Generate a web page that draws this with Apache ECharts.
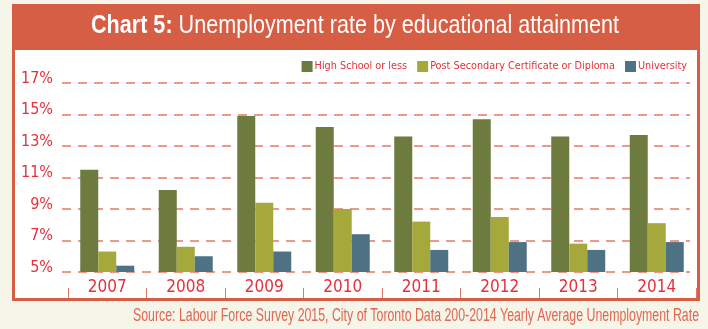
<!DOCTYPE html>
<html>
<head>
<meta charset="utf-8">
<style>
html,body{margin:0;padding:0;background:#f6f5ea;}
#c{width:708px;height:329px;}
</style>
<script src="https://cdn.jsdelivr.net/npm/echarts@6/dist/echarts.min.js"></script>
</head>
<body>
<div id="c"></div>
<script>
var categories = ['2007','2008','2009','2010','2011','2012','2013','2014'];
var highSchool = [11.5, 10.2, 14.9, 14.2, 13.6, 14.7, 13.6, 13.7];
var postSecondary = [6.3, 6.6, 9.4, 9.0, 8.2, 8.5, 6.8, 8.1];
var university = [5.4, 6.0, 6.3, 7.4, 6.4, 6.9, 6.4, 6.9];
var seriesNames = ['High School or less', 'Post Secondary Certificate or Diploma', 'University'];
var yTicks = {min: 5, max: 17, interval: 2};
var titleBold = 'Chart 5:';
var titleRest = 'Unemployment rate by educational attainment';
var sourceText = 'Source: Labour Force Survey 2015, City of Toronto Data 200-2014 Yearly Average Unemployment Rate';

var FONT = '"DejaVu Sans Condensed","DejaVu Sans",sans-serif';
var FONT_T = '"Liberation Sans",Arial,sans-serif';
var RED = '#e4313d';
var colors = ['#6d7b3e', '#a5a83a', '#4f7184'];

// measure text widths to compress title/source horizontally (condensed look)
var cv = document.createElement('canvas').getContext('2d');
function tw(font, s) { cv.font = font; return cv.measureText(s).width; }
var titleW = tw('bold 25px ' + FONT_T, titleBold) + tw('25px ' + FONT_T, ' ' + titleRest);
var titleScale = (619 - 91) / titleW;
var srcW = tw('18px ' + FONT_T, sourceText);
var srcScale = (699 - 133) / srcW;

var chart = echarts.init(document.getElementById('c'));
chart.setOption({
  backgroundColor: '#f6f5ea',
  animation: false,
  graphic: [
    {type: 'rect', shape: {x: 13.5, y: 5.5, width: 685, height: 294}, style: {fill: '#ffffff', stroke: '#d65e45', lineWidth: 3}, z: -10},
    {type: 'rect', shape: {x: 12, y: 4, width: 688, height: 46}, style: {fill: '#d65e45'}, z: -9},
    {type: 'text', x: 91, y: 26.5, scaleX: titleScale, z: 10,
      style: {
        text: '{b|' + titleBold + '} {r|' + titleRest + '}',
        align: 'left', verticalAlign: 'middle',
        rich: {
          b: {fontFamily: FONT_T, fontSize: 25, fontWeight: 'bold', fill: '#ffffff'},
          r: {fontFamily: FONT_T, fontSize: 25, fontWeight: 'normal', fill: '#ffffff'}
        },
        fontFamily: FONT_T, fontSize: 25, fill: '#ffffff'
      }},
    {type: 'text', x: 699, y: 316, scaleX: srcScale, z: 10,
      style: {text: sourceText, align: 'right', verticalAlign: 'middle', fontFamily: FONT_T, fontSize: 18, fill: '#e0674f'}}
  ],
  legend: {
    data: seriesNames,
    right: 21, top: 61,
    padding: 0,
    itemWidth: 11, itemHeight: 11, itemGap: 10,
    icon: 'rect',
    textStyle: {fontFamily: FONT, fontSize: 10.8, color: RED, padding: [0,0,0,-3]}
  },
  grid: [
    {left: 62, right: 18, top: 83, bottom: 57},
    {left: 68, right: 12, top: 83, bottom: 57}
  ],
  xAxis: [
    {type: 'category', data: categories, gridIndex: 0, show: false},
    {type: 'category', data: categories, gridIndex: 1,
      axisLine: {show: false},
      axisTick: {show: false},
      axisLabel: {margin: 7, fontFamily: FONT, fontSize: 17, color: RED}},
    {type: 'category', data: categories, gridIndex: 1, position: 'bottom', offset: 16,
      axisLine: {show: false},
      axisTick: {show: true, length: 10, lineStyle: {color: '#e07a68', width: 1}},
      axisLabel: {show: false}}
  ],
  yAxis: [
    {type: 'value', gridIndex: 0, min: yTicks.min, max: yTicks.max, interval: yTicks.interval,
      axisLine: {show: false}, axisTick: {show: false},
      splitLine: {lineStyle: {color: '#eb9a8a', width: 2, type: [9, 7]}},
      axisLabel: {formatter: '{a|{value}%}', margin: 9,
        rich: {a: {fontFamily: FONT, fontSize: 16, color: RED, padding: [0,0,9,0]}}}},
    {type: 'value', gridIndex: 1, min: yTicks.min, max: yTicks.max, interval: yTicks.interval, show: false,
      splitLine: {show: false}}
  ],
  series: [
    {name: seriesNames[0], type: 'bar', xAxisIndex: 1, yAxisIndex: 1, data: highSchool, barWidth: 18, barGap: '0%', itemStyle: {color: colors[0]}},
    {name: seriesNames[1], type: 'bar', xAxisIndex: 1, yAxisIndex: 1, data: postSecondary, barWidth: 18, barGap: '0%', itemStyle: {color: colors[1]}},
    {name: seriesNames[2], type: 'bar', xAxisIndex: 1, yAxisIndex: 1, data: university, barWidth: 18, barGap: '0%', itemStyle: {color: colors[2]}}
  ]
});
</script>
</body>
</html>
